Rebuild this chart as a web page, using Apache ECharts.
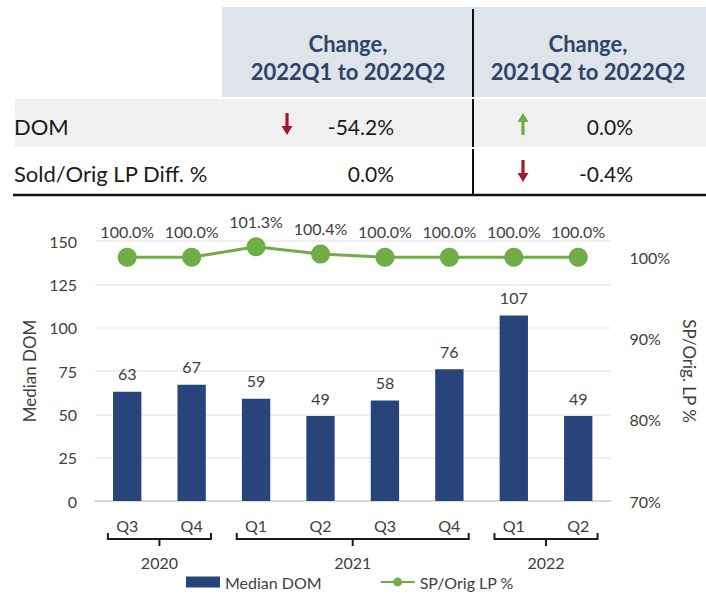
<!DOCTYPE html>
<html>
<head>
<meta charset="utf-8">
<script src="https://cdn.jsdelivr.net/npm/echarts@6/dist/echarts.min.js"></script>
<style>
html,body{margin:0;padding:0;background:#fff;}
#chart{width:706px;height:595px;}
</style>
</head>
<body>
<div id="chart"></div>
<script>
// ---- data ----
var categories = ['Q3', 'Q4', 'Q1', 'Q2', 'Q3', 'Q4', 'Q1', 'Q2'];
var yearLabels = ['2020', '2021', '2022'];
var yearSpans = [2, 4, 2];
var medianDom = [63, 67, 59, 49, 58, 76, 107, 49];
var spOrigLp = [1.000, 1.000, 1.013, 1.004, 1.000, 1.000, 1.000, 1.000];
var leftTicks = [0, 25, 50, 75, 100, 125, 150];
var rightTicks = [0.7, 0.8, 0.9, 1.0];

var tableHeaders = ['Change,\n2022Q1 to 2022Q2', 'Change,\n2021Q2 to 2022Q2'];
var tableRowLabels = ['DOM', 'Sold/Orig LP Diff. %'];
var tableValues = [['-54.2%', '0.0%'], ['0.0%', '-0.4%']];
var tableArrows = [['down', 'up'], ['none', 'down']];

// ---- styles ----
var FONT = 'Lato';
var BAR_COLOR = '#27457A';
var LINE_COLOR = '#70AD47';
var RED = '#A01A2E';
var TEXT = '#404040';

var chart = echarts.init(document.getElementById('chart'), null, {renderer: 'svg'});

function arrowPoints(cx, cy, dir) {
  var s = dir === 'down' ? 1 : -1;
  return [
    [cx - 1.6, cy - 11 * s], [cx + 1.6, cy - 11 * s], [cx + 1.6, cy + 2 * s],
    [cx + 5.5, cy + 2 * s], [cx, cy + 11 * s], [cx - 5.5, cy + 2 * s], [cx - 1.6, cy + 2 * s]
  ];
}

function tableGraphics() {
  var g = [];
  g.push({type: 'rect', shape: {x: 222, y: 7, width: 484, height: 90}, style: {fill: '#DFE4EB'}, silent: true});
  g.push({type: 'rect', shape: {x: 15, y: 99, width: 691, height: 48}, style: {fill: '#F0F0F0'}, silent: true});
  var colCenters = [348, 588];
  var valueRight = [394, 633];
  var arrowX = [287, 523];
  var rowY = [126, 173];
  tableHeaders.forEach(function (h, i) {
    g.push({type: 'text', x: colCenters[i], y: 57, style: {
      text: h, fill: '#2E4567', font: 'bold 22px ' + FONT, textAlign: 'center', textVerticalAlign: 'middle', lineHeight: 28
    }, silent: true});
  });
  tableRowLabels.forEach(function (lab, r) {
    g.push({type: 'text', x: 14, y: rowY[r], style: {
      text: lab, fill: '#1A1A1A', font: '22px ' + FONT, textAlign: 'left', textVerticalAlign: 'middle'
    }, silent: true});
    for (var c = 0; c < 2; c++) {
      g.push({type: 'text', x: valueRight[c], y: rowY[r], style: {
        text: tableValues[r][c], fill: '#1A1A1A', font: '21px ' + FONT, textAlign: 'right', textVerticalAlign: 'middle'
      }, silent: true});
      var a = tableArrows[r][c];
      if (a !== 'none') {
        g.push({type: 'polygon', shape: {points: arrowPoints(arrowX[c], rowY[r] - 2, a)},
          style: {fill: a === 'down' ? RED : LINE_COLOR}, silent: true});
      }
    }
  });
  [[9, 97], [99, 147], [149, 194]].forEach(function (seg) {
    g.push({type: 'line', shape: {x1: 473, y1: seg[0], x2: 473, y2: seg[1]}, style: {stroke: '#111', lineWidth: 2}, silent: true});
  });
  g.push({type: 'line', shape: {x1: 13, y1: 195, x2: 706, y2: 195}, style: {stroke: '#111', lineWidth: 2.5}, silent: true});
  return g;
}

var option = {
  animation: false,
  textStyle: {fontFamily: FONT},
  grid: {left: 95, right: 83, top: 241, bottom: 94},
  legend: {
    top: 574, left: 186, itemGap: 58, itemWidth: 34, itemHeight: 11, padding: 0,
    textStyle: {fontFamily: FONT, fontSize: 16, color: TEXT},
    data: [
      {name: 'Median DOM', icon: 'rect'},
      {name: 'SP/Orig LP %'}
    ]
  },
  xAxis: {
    type: 'category', data: categories,
    axisTick: {show: false},
    axisLine: {lineStyle: {color: '#D9D9D9', width: 2}},
    axisLabel: {fontSize: 16, color: TEXT, margin: 16}
  },
  yAxis: [{
    type: 'value', min: leftTicks[0], max: leftTicks[leftTicks.length - 1], interval: 25,
    name: 'Median DOM', nameLocation: 'middle', nameGap: 56, nameRotate: 90,
    nameTextStyle: {fontSize: 17, color: TEXT},
    axisLine: {show: false}, axisTick: {show: false},
    axisLabel: {fontSize: 16, color: TEXT, margin: 18},
    splitLine: {lineStyle: {color: '#EBEBEB', width: 1.5}}
  }, {
    type: 'value', min: rightTicks[0], max: 1.02, interval: 0.1,
    name: 'SP/Orig. LP %', nameLocation: 'middle', nameGap: 63, nameRotate: -90,
    nameTextStyle: {fontSize: 17, color: TEXT},
    axisLine: {show: false}, axisTick: {show: false}, splitLine: {show: false},
    axisLabel: {fontSize: 16, color: TEXT, margin: 19, formatter: function (v) {
      var p = Math.round(v * 100);
      var ok = rightTicks.some(function (t) { return Math.round(t * 100) === p; });
      return ok ? p + '%' : '';
    }}
  }],
  series: [{
    name: 'Median DOM', type: 'bar', data: medianDom, barWidth: '44%',
    itemStyle: {color: BAR_COLOR},
    label: {show: true, position: 'top', distance: 10, fontSize: 16, color: TEXT}
  }, {
    name: 'SP/Orig LP %', type: 'line', yAxisIndex: 1, data: spOrigLp,
    symbol: 'circle', symbolSize: 19,
    lineStyle: {color: LINE_COLOR, width: 3}, itemStyle: {color: LINE_COLOR},
    label: {show: true, position: 'top', distance: 8, fontSize: 16, color: TEXT,
      formatter: function (p) { return (p.value * 100).toFixed(1) + '%'; }}
  }],
  graphic: tableGraphics()
};
chart.setOption(option);

function bracketGraphics() {
  var g = [];
  var bw = chart.convertToPixel({xAxisIndex: 0}, 1) - chart.convertToPixel({xAxisIndex: 0}, 0);
  var start = 0;
  var yTop = 533, yBase = 539, yTick = 546;
  yearLabels.forEach(function (lab, i) {
    var first = start, last = start + yearSpans[i] - 1;
    var x1 = chart.convertToPixel({xAxisIndex: 0}, first) - 0.3 * bw;
    var x2 = chart.convertToPixel({xAxisIndex: 0}, last) + 0.3 * bw;
    var xm = (x1 + x2) / 2;
    g.push({type: 'polyline', shape: {points: [[x1, yTop], [x1, yBase], [x2, yBase], [x2, yTop]]},
      style: {stroke: '#1A1A1A', lineWidth: 2, fill: null}, silent: true});
    g.push({type: 'line', shape: {x1: xm, y1: yBase, x2: xm, y2: yTick},
      style: {stroke: '#1A1A1A', lineWidth: 2}, silent: true});
    g.push({type: 'text', x: xm, y: 562, style: {text: lab, fill: TEXT, font: '16px ' + FONT,
      textAlign: 'center', textVerticalAlign: 'middle'}, silent: true});
    start += yearSpans[i];
  });
  return g;
}
chart.setOption({graphic: tableGraphics().concat(bracketGraphics())}, {replaceMerge: ['graphic']});
</script>
</body>
</html>
